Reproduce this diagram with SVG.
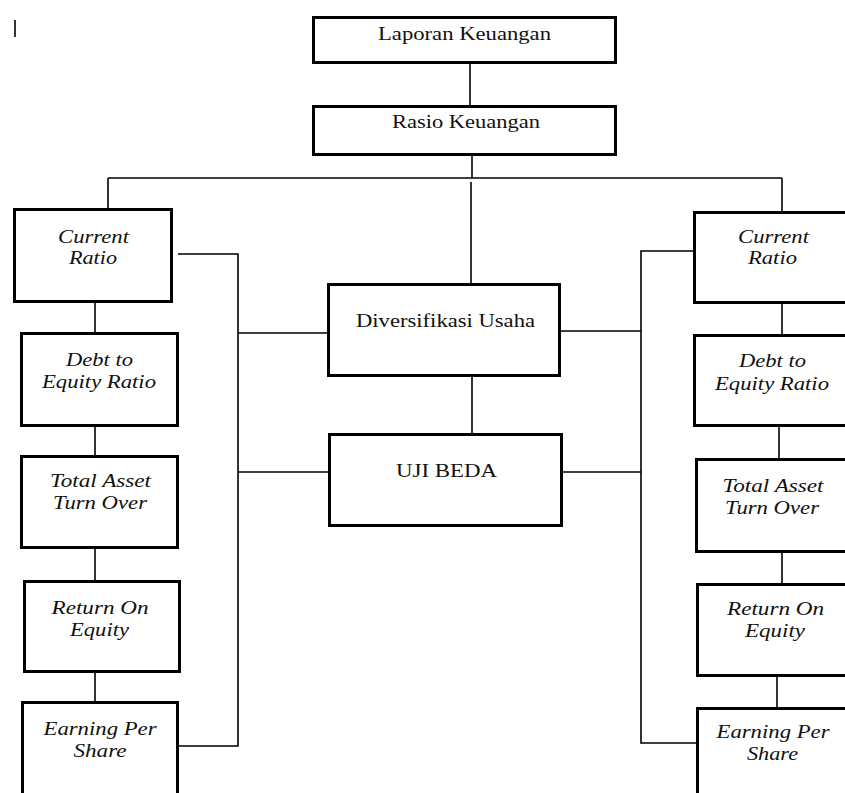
<svg xmlns="http://www.w3.org/2000/svg" width="845" height="793" viewBox="0 0 845 793">
<style>
.box{fill:#fff;stroke:#000;stroke-width:3}
.ln{fill:none;stroke:#000;stroke-width:1.6}
.t{font-family:"Liberation Serif","Times New Roman",serif;font-size:18px;fill:#111;text-anchor:middle}
.i{font-style:italic}
</style>
<rect width="845" height="793" fill="#fff"/>
<line x1="15" y1="20" x2="15" y2="37" stroke="#333" stroke-width="2"/>
<g id="connectors">
<line class="ln" x1="470" y1="64" x2="470" y2="105" stroke-width="2"/>
<line class="ln" x1="472" y1="156" x2="472" y2="178"/>
<line class="ln" x1="108" y1="178" x2="782" y2="178"/>
<line class="ln" x1="108" y1="178" x2="108" y2="208"/>
<line class="ln" x1="782" y1="178" x2="782" y2="211"/>
<line class="ln" x1="471" y1="182" x2="471" y2="283"/>
<polyline class="ln" points="178,254 238,254 238,746 179,746"/>
<line class="ln" x1="238" y1="333" x2="328" y2="333"/>
<line class="ln" x1="238" y1="472" x2="328" y2="472"/>
<polyline class="ln" points="699,251 641,251 641,743 696,743"/>
<line class="ln" x1="561" y1="331" x2="641" y2="331"/>
<line class="ln" x1="563" y1="472" x2="641" y2="472"/>
<line class="ln" x1="472" y1="377" x2="472" y2="433"/>
<line class="ln" x1="95" y1="303" x2="95" y2="332"/>
<line class="ln" x1="95" y1="427" x2="95" y2="455"/>
<line class="ln" x1="95" y1="549" x2="95" y2="580"/>
<line class="ln" x1="95" y1="673" x2="95" y2="701"/>
<line class="ln" x1="782" y1="304" x2="782" y2="334"/>
<line class="ln" x1="779" y1="427" x2="779" y2="458"/>
<line class="ln" x1="782" y1="552" x2="782" y2="583"/>
<line class="ln" x1="777" y1="677" x2="777" y2="707"/>
</g>
<g id="laporan">
<rect class="box" x="313.5" y="17.5" width="302" height="45"/>
<text class="t" x="464.5" y="40" textLength="173" lengthAdjust="spacingAndGlyphs">Laporan Keuangan</text>
</g>
<g id="rasio">
<rect class="box" x="313.5" y="106.5" width="302" height="48"/>
<text class="t" x="466" y="128" textLength="148" lengthAdjust="spacingAndGlyphs">Rasio Keuangan</text>
</g>
<g id="diversifikasi">
<rect class="box" x="328.5" y="284.5" width="231" height="91"/>
<text class="t" x="445.5" y="327" textLength="179" lengthAdjust="spacingAndGlyphs">Diversifikasi Usaha</text>
</g>
<g id="ujibeda">
<rect class="box" x="329.5" y="434.5" width="232" height="91"/>
<text class="t" x="446.5" y="477" textLength="101" lengthAdjust="spacingAndGlyphs">UJI BEDA</text>
</g>
<g id="left-cr">
<rect class="box" x="14.5" y="209.5" width="157" height="92"/>
<text class="t i" x="93.5" y="243" textLength="71" lengthAdjust="spacingAndGlyphs">Current</text>
<text class="t i" x="93" y="264" textLength="48" lengthAdjust="spacingAndGlyphs">Ratio</text>
</g>
<g id="left-der">
<rect class="box" x="21.5" y="333.5" width="156" height="92"/>
<text class="t i" x="99.5" y="366" textLength="67" lengthAdjust="spacingAndGlyphs">Debt to</text>
<text class="t i" x="99" y="388" textLength="114" lengthAdjust="spacingAndGlyphs">Equity Ratio</text>
</g>
<g id="left-tato">
<rect class="box" x="21.5" y="456.5" width="156" height="91"/>
<text class="t i" x="100.5" y="487" textLength="101" lengthAdjust="spacingAndGlyphs">Total Asset</text>
<text class="t i" x="100" y="509" textLength="94" lengthAdjust="spacingAndGlyphs">Turn Over</text>
</g>
<g id="left-roe">
<rect class="box" x="24.5" y="581.5" width="155" height="90"/>
<text class="t i" x="100" y="614" textLength="97" lengthAdjust="spacingAndGlyphs">Return On</text>
<text class="t i" x="99.5" y="636" textLength="59" lengthAdjust="spacingAndGlyphs">Equity</text>
</g>
<g id="left-eps">
<rect class="box" x="22.5" y="702.5" width="155" height="93"/>
<text class="t i" x="100" y="735" textLength="113" lengthAdjust="spacingAndGlyphs">Earning Per</text>
<text class="t i" x="100" y="757" textLength="53" lengthAdjust="spacingAndGlyphs">Share</text>
</g>
<g id="right-cr">
<rect class="box" x="694.5" y="212.5" width="160" height="90"/>
<text class="t i" x="773.5" y="243" textLength="71" lengthAdjust="spacingAndGlyphs">Current</text>
<text class="t i" x="772.5" y="264" textLength="49" lengthAdjust="spacingAndGlyphs">Ratio</text>
</g>
<g id="right-der">
<rect class="box" x="694.5" y="335.5" width="160" height="90"/>
<text class="t i" x="772.5" y="367" textLength="67" lengthAdjust="spacingAndGlyphs">Debt to</text>
<text class="t i" x="772" y="390" textLength="114" lengthAdjust="spacingAndGlyphs">Equity Ratio</text>
</g>
<g id="right-tato">
<rect class="box" x="696.5" y="459.5" width="160" height="92"/>
<text class="t i" x="773" y="492" textLength="101" lengthAdjust="spacingAndGlyphs">Total Asset</text>
<text class="t i" x="772" y="514" textLength="94" lengthAdjust="spacingAndGlyphs">Turn Over</text>
</g>
<g id="right-roe">
<rect class="box" x="697.5" y="584.5" width="160" height="91"/>
<text class="t i" x="775.5" y="615" textLength="97" lengthAdjust="spacingAndGlyphs">Return On</text>
<text class="t i" x="775" y="637" textLength="60" lengthAdjust="spacingAndGlyphs">Equity</text>
</g>
<g id="right-eps">
<rect class="box" x="697.5" y="708.5" width="160" height="90"/>
<text class="t i" x="773" y="738" textLength="113" lengthAdjust="spacingAndGlyphs">Earning Per</text>
<text class="t i" x="772.5" y="760" textLength="51" lengthAdjust="spacingAndGlyphs">Share</text>
</g>
</svg>
